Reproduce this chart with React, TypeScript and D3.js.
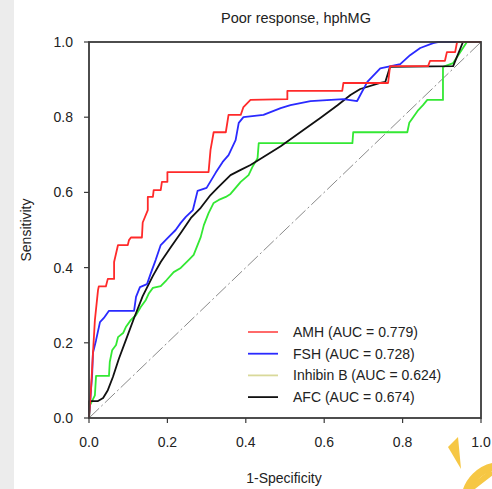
import React from "react";
import * as d3 from "d3";

const title = "Poor response, hphMG";
const xLabel = "1-Specificity";
const yLabel = "Sensitivity";
const tickValues = [0, 0.2, 0.4, 0.6, 0.8, 1.0];

const seriesNames = ["AMH (AUC = 0.779)", "FSH (AUC = 0.728)", "Inhibin B (AUC = 0.624)", "AFC (AUC = 0.674)"];
const seriesColors = ["#ff2a2a", "#2a2aff", "#33e833", "#111111"];
const legendColors = ["#ff5a5a", "#2a2aff", "#d9d99a", "#111111"];

const amh: [number, number][] = [
  [0, 0], [0.005, 0.074], [0.01, 0.17], [0.015, 0.26], [0.023, 0.34], [0.025, 0.35], [0.043, 0.35],
  [0.048, 0.37], [0.064, 0.37], [0.064, 0.415], [0.074, 0.46], [0.099, 0.46], [0.102, 0.473],
  [0.107, 0.48], [0.135, 0.48], [0.137, 0.52], [0.15, 0.553], [0.15, 0.588], [0.163, 0.588],
  [0.165, 0.606], [0.183, 0.606], [0.186, 0.628], [0.2, 0.628], [0.2, 0.654], [0.305, 0.654],
  [0.31, 0.713], [0.318, 0.76], [0.349, 0.76], [0.356, 0.806], [0.387, 0.806], [0.394, 0.827],
  [0.412, 0.846], [0.506, 0.848], [0.506, 0.87], [0.646, 0.87], [0.649, 0.891], [0.763, 0.891],
  [0.768, 0.936], [0.865, 0.936], [0.87, 0.95], [0.908, 0.95], [0.913, 0.973], [0.934, 0.973],
  [0.939, 1], [1, 1],
];

const fsh: [number, number][] = [
  [0, 0], [0.005, 0.074], [0.008, 0.114], [0.01, 0.173], [0.018, 0.207], [0.028, 0.255],
  [0.038, 0.266], [0.051, 0.285], [0.115, 0.285], [0.12, 0.322], [0.13, 0.348], [0.148, 0.356],
  [0.158, 0.386], [0.17, 0.42], [0.183, 0.46], [0.201, 0.479], [0.221, 0.5], [0.234, 0.519],
  [0.247, 0.535], [0.265, 0.553], [0.277, 0.604], [0.3, 0.612], [0.323, 0.652], [0.341, 0.681],
  [0.356, 0.699], [0.374, 0.739], [0.382, 0.785], [0.394, 0.8], [0.445, 0.806], [0.489, 0.824],
  [0.514, 0.832], [0.565, 0.843], [0.649, 0.848], [0.684, 0.843], [0.71, 0.894], [0.743, 0.93],
  [0.794, 0.941], [0.819, 0.965], [0.845, 0.984], [0.878, 0.997], [0.89, 1], [1, 1],
];

const inhibinB: [number, number][] = [
  [0, 0], [0.003, 0.035], [0.015, 0.06], [0.018, 0.112], [0.051, 0.112], [0.053, 0.149],
  [0.059, 0.18], [0.069, 0.194], [0.074, 0.215], [0.087, 0.226], [0.094, 0.242], [0.107, 0.261],
  [0.12, 0.274], [0.132, 0.295], [0.145, 0.314], [0.153, 0.332], [0.163, 0.346], [0.183, 0.351],
  [0.198, 0.367], [0.216, 0.388], [0.234, 0.399], [0.254, 0.42], [0.267, 0.434], [0.285, 0.481],
  [0.293, 0.513], [0.305, 0.545], [0.318, 0.572], [0.331, 0.58], [0.349, 0.588], [0.361, 0.596],
  [0.374, 0.612], [0.387, 0.628], [0.407, 0.646], [0.417, 0.668], [0.43, 0.691], [0.433, 0.731],
  [0.672, 0.731], [0.674, 0.76], [0.812, 0.76], [0.817, 0.785], [0.827, 0.8], [0.84, 0.819],
  [0.852, 0.832], [0.863, 0.846], [0.903, 0.846], [0.903, 0.934], [0.929, 0.944], [0.964, 1], [1, 1],
];

const afc: [number, number][] = [
  [0, 0], [0, 0.045], [0.023, 0.045], [0.036, 0.053], [0.048, 0.074], [0.061, 0.109],
  [0.076, 0.157], [0.094, 0.207], [0.115, 0.266], [0.137, 0.324], [0.163, 0.378], [0.183, 0.415],
  [0.209, 0.455], [0.234, 0.492], [0.26, 0.532], [0.285, 0.559], [0.31, 0.593], [0.328, 0.612],
  [0.361, 0.646], [0.387, 0.66], [0.412, 0.673], [0.445, 0.694], [0.489, 0.723], [0.547, 0.766],
  [0.59, 0.798], [0.634, 0.832], [0.667, 0.859], [0.692, 0.875], [0.743, 0.891], [0.756, 0.894],
  [0.768, 0.934], [0.929, 0.936], [0.954, 1], [1, 1],
];

const allSeries = [amh, fsh, inhibinB, afc];

export default function App() {
  const W = 492, H = 489;
  const x = d3.scaleLinear().domain([0, 1]).range([89, 481]);
  const y = d3.scaleLinear().domain([0, 1]).range([418, 42]);
  const line = d3.line<[number, number]>().x((d) => x(d[0])).y((d) => y(d[1]));
  const font = "'Liberation Sans', Arial, sans-serif";
  const textColor = "#222";
  const legendX = 248;
  const legendY0 = 332;
  const legendStep = 21.7;
  // draw order: green, black, blue, red on top
  const order = [2, 3, 1, 0];
  return (
    <svg width={W} height={H} style={{ position: "absolute", left: 0, top: 0 }} fontFamily={font}>
      <rect x={0} y={0} width={W} height={H} fill="#ffffff" />
      <rect x={0} y={0} width={14} height={H} fill="#ececec" />
      <text x={296} y={23} textAnchor="middle" fontSize={14.5} fill={textColor}>{title}</text>
      {/* diagonal reference */}
      <line x1={x(0)} y1={y(0)} x2={x(1)} y2={y(1)} stroke="#8a8a8a" strokeWidth={1} strokeDasharray="14,3,2,3" />
      {order.map((i) => (
        <path key={i} d={line(allSeries[i]) || ""} fill="none" stroke={seriesColors[i]} strokeWidth={1.8} strokeLinejoin="round" />
      ))}
      {/* frame */}
      <rect x={x(0)} y={y(1)} width={x(1) - x(0)} height={y(0) - y(1)} fill="none" stroke="#3a3a3a" strokeWidth={1.8} />
      {tickValues.map((t) => (
        <g key={"x" + t}>
          <line x1={x(t)} x2={x(t)} y1={y(0)} y2={y(0) + 5} stroke="#3a3a3a" strokeWidth={1.2} />
          <text x={x(t)} y={447} textAnchor="middle" fontSize={14} fill={textColor}>{t.toFixed(1)}</text>
        </g>
      ))}
      {tickValues.map((t) => (
        <g key={"y" + t}>
          <line x1={x(0) - 5} x2={x(0)} y1={y(t)} y2={y(t)} stroke="#3a3a3a" strokeWidth={1.2} />
          <text x={73} y={y(t) + 5} textAnchor="end" fontSize={14} fill={textColor}>{t.toFixed(1)}</text>
        </g>
      ))}
      <text x={284} y={483} textAnchor="middle" fontSize={14} fill={textColor}>{xLabel}</text>
      <text transform={`translate(31,230) rotate(-90)`} textAnchor="middle" fontSize={14} fill={textColor}>{yLabel}</text>
      {seriesNames.map((n, i) => (
        <g key={n}>
          <line x1={legendX} x2={legendX + 30} y1={legendY0 + i * legendStep} y2={legendY0 + i * legendStep} stroke={legendColors[i]} strokeWidth={1.8} />
          <text x={legendX + 45} y={legendY0 + i * legendStep + 5} fontSize={14} fill={textColor}>{n}</text>
        </g>
      ))}
      {/* watermark */}
      <path d="M448,447 L458,437 L461,469 Z" fill="#f6c744" />
      <circle cx={501} cy={502} r={36} fill="none" stroke="#f6c744" strokeWidth={8} />
      <line x1={470} y1={489} x2={492} y2={472} stroke="#f6c744" strokeWidth={6} />
    </svg>
  );
}
